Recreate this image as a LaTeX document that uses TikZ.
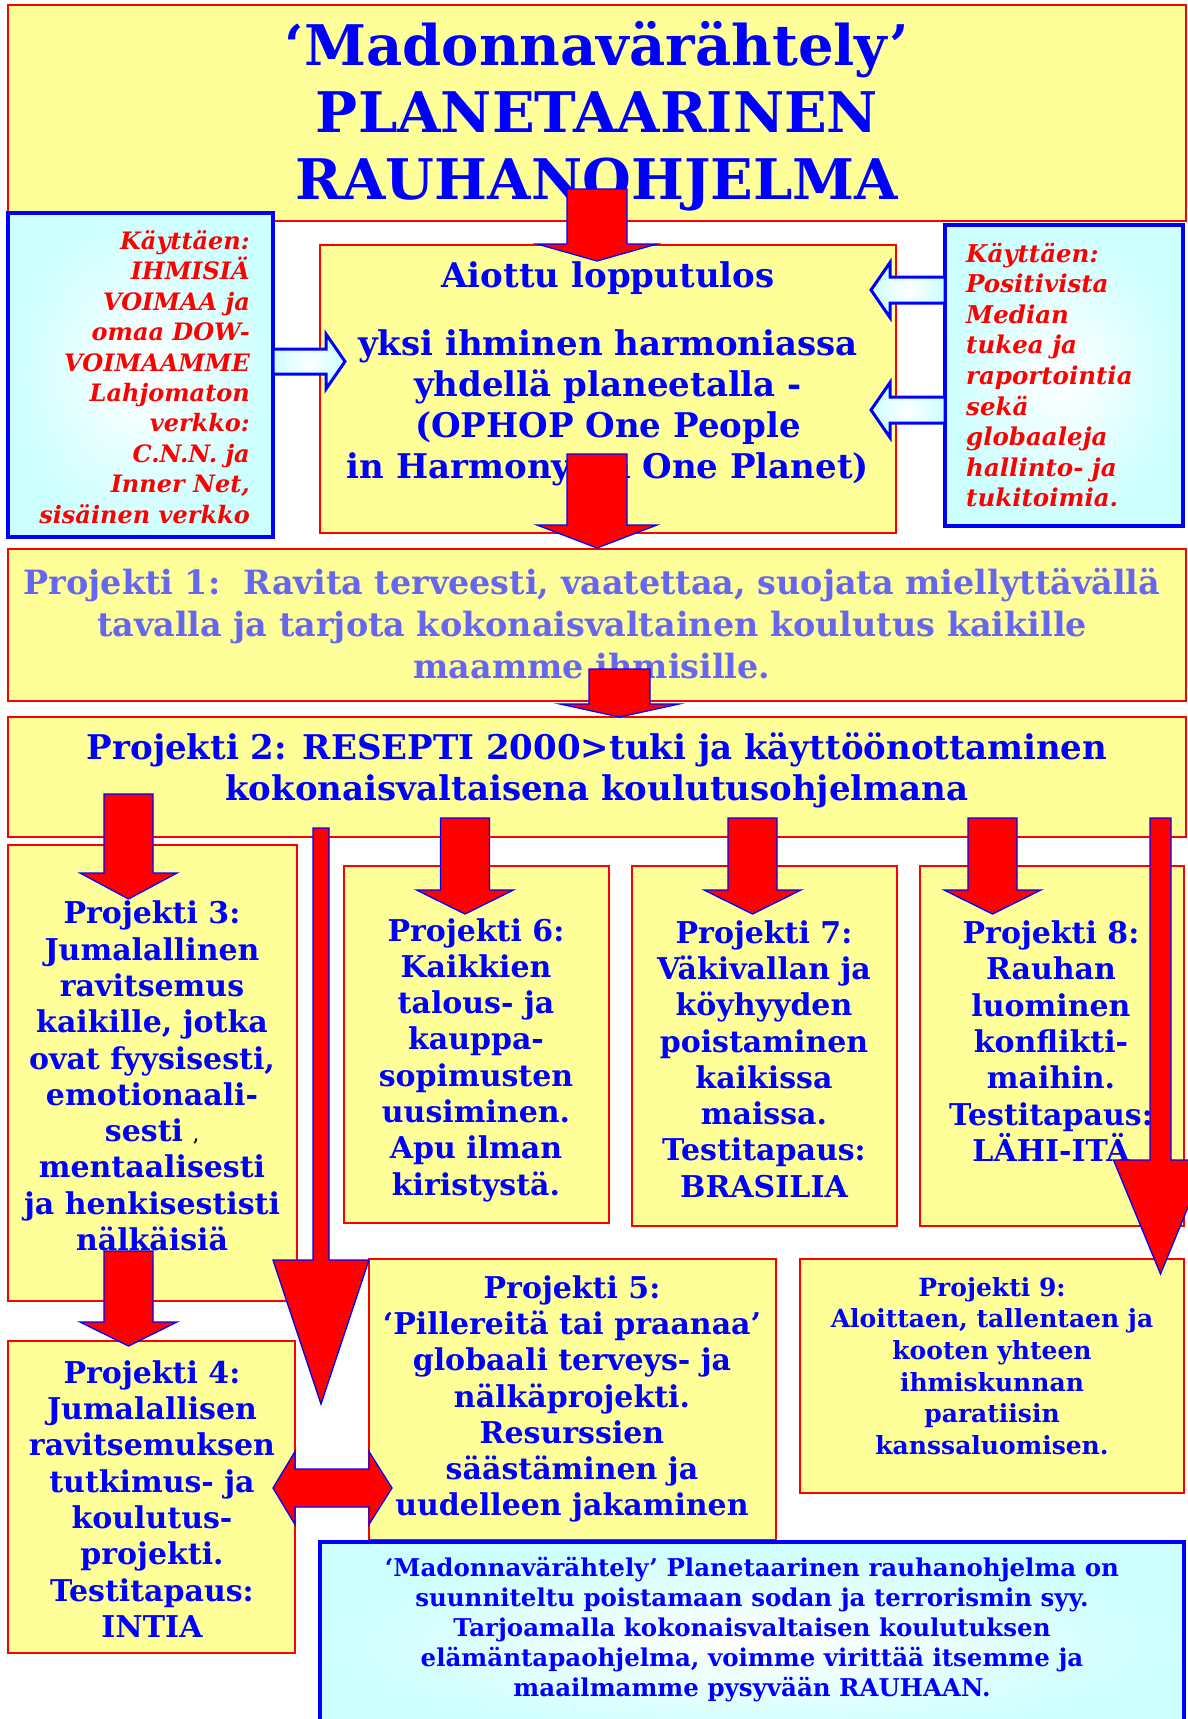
\documentclass[tikz,border=0pt]{standalone}
\usepackage{fontspec}
\setmainfont{DejaVu Serif}
\usetikzlibrary{calc}
\definecolor{yfill}{RGB}{255,255,153}
\definecolor{cfill}{RGB}{204,255,255}
\definecolor{pblue}{RGB}{0,0,255}
\definecolor{pone}{RGB}{102,102,238}
\definecolor{bred}{RGB}{255,0,0}
\tikzset{
  ybox/.style={draw=bred, line width=2pt, fill=yfill, inner sep=0pt, outer sep=0pt, anchor=north west},
  cbox/.style={draw=pblue, line width=3.5pt, inner color=white, outer color=cfill, inner sep=0pt, outer sep=0pt, anchor=north west},
  txt/.style={text=pblue, align=center, inner sep=0pt},
  redarr/.style={fill=bred, draw=pblue, line width=1.3pt, line join=miter},
  hollowarr/.style={draw=pblue, line width=3pt, line join=miter, inner color=white, outer color=cfill},
}
% #1 start, #2 tip, #3 shaft half width, #4 head half width, #5 head length
\newcommand\DownBlk[5]{%
  \draw[redarr] let \p1=(#1), \p2=(#2) in
    (\x1-#3pt,\y1) -- (\x1+#3pt,\y1) -- (\x1+#3pt,\y2+#5pt) -- (\x1+#4pt,\y2+#5pt)
    -- (\x2,\y2) -- (\x1-#4pt,\y2+#5pt) -- (\x1-#3pt,\y2+#5pt) -- cycle;}
\newcommand\RightBlk[5]{%
  \draw[hollowarr] let \p1=(#1), \p2=(#2) in
    (\x1,\y1+#3pt) -- (\x2-#5pt,\y1+#3pt) -- (\x2-#5pt,\y1+#4pt) -- (\x2,\y2)
    -- (\x2-#5pt,\y1-#4pt) -- (\x2-#5pt,\y1-#3pt) -- (\x1,\y1-#3pt) -- cycle;}
\newcommand\LeftBlk[5]{%
  \draw[hollowarr] let \p1=(#1), \p2=(#2) in
    (\x1,\y1+#3pt) -- (\x2+#5pt,\y1+#3pt) -- (\x2+#5pt,\y1+#4pt) -- (\x2,\y2)
    -- (\x2+#5pt,\y1-#4pt) -- (\x2+#5pt,\y1-#3pt) -- (\x1,\y1-#3pt) -- cycle;}
\begin{document}
\begin{tikzpicture}[x=1pt,y=-1pt]
\useasboundingbox (0,0) rectangle (1188,1719);
\fill[white] (0,0) rectangle (1188,1719);

% boxes
\node[ybox, minimum width=1178pt, minimum height=216pt] (title) at (8,5) {};
\node[cbox, minimum width=238pt, minimum height=301pt] (rightc) at (945,225) {};
\node[ybox, minimum width=576pt, minimum height=288pt] (center) at (320,245) {};
\node[ybox, minimum width=1178pt, minimum height=152pt] (p1) at (8,549) {};
\node[ybox, minimum width=1178pt, minimum height=120pt] (p2) at (8,717) {};
\node[ybox, minimum width=289pt, minimum height=456pt] (p3) at (8,845) {};
\node[ybox, minimum width=265pt, minimum height=357pt] (p6) at (344,866) {};
\node[ybox, minimum width=265pt, minimum height=360pt] (p7) at (632,866) {};
\node[ybox, minimum width=264pt, minimum height=360pt] (p8) at (920,866) {};
\node[ybox, minimum width=287pt, minimum height=312pt] (p4) at (8,1341) {};
\node[ybox, minimum width=407pt, minimum height=281pt] (p5) at (369,1259) {};
\node[ybox, minimum width=384pt, minimum height=234pt] (p9) at (800,1259) {};
\node[cbox, minimum width=864pt, minimum height=200pt] (bottom) at (320,1542) {};
\node[cbox, minimum width=265pt, minimum height=324pt] (leftc) at (8,213) {};

% texts
\node[txt, font=\bfseries\fontsize{56}{67}\selectfont] (titlet) at (597,116)
  {‘Madonnavärähtely’\\PLANETAARINEN\\RAUHANOHJELMA};
\node[txt, text=bred, align=right, anchor=east, font=\bfseries\itshape\fontsize{24}{30.4}\selectfont] (leftt) at (250,377)
  {Käyttäen:\\IHMISIÄ\\VOIMAA ja\\omaa DOW-\\VOIMAAMME\\Lahjomaton\\verkko:\\C.N.N. ja\\Inner Net,\\sisäinen verkko};
\node[txt, text=bred, align=left, anchor=west, font=\bfseries\itshape\fontsize{24.5}{30.6}\selectfont] (rightt) at (966,375)
  {Käyttäen:\\Positivista\\Median\\tukea ja\\raportointia\\sekä\\globaaleja\\hallinto- ja\\tukitoimia.};
\node[txt, font=\bfseries\fontsize{34}{41}\selectfont] (centert) at (608,374)
  {Aiottu lopputulos\\[27pt]yksi ihminen harmoniassa\\yhdellä planeetalla -\\(OPHOP One People\\in Harmony on One Planet)};
\node[txt, text=pone, font=\bfseries\fontsize{33.4}{42}\selectfont] (p1t) at (592,624)
  {Projekti 1:\ \ Ravita terveesti, vaatettaa, suojata miellyttävällä\\tavalla ja tarjota kokonaisvaltainen koulutus kaikille\\maamme ihmisille.};
\node[txt, font=\bfseries\fontsize{34}{41}\selectfont] (p2t) at (597,770)
  {Projekti 2: RESEPTI 2000>tuki ja käyttöönottaminen\\kokonaisvaltaisena koulutusohjelmana};
\node[txt, font=\bfseries\fontsize{30}{36.3}\selectfont] (p3t) at (152,1076)
  {Projekti 3:\\Jumalallinen\\ravitsemus\\kaikille, jotka\\ovat fyysisesti,\\emotionaali-\\sesti {\color{black}\fontsize{16}{16}\selectfont,}\\mentaalisesti\\ja henkisestisti\\nälkäisiä};
\node[txt, font=\bfseries\fontsize{30}{36.3}\selectfont] (p6t) at (476,1060)
  {Projekti 6:\\Kaikkien\\talous- ja\\kauppa-\\sopimusten\\uusiminen.\\Apu ilman\\kiristystä.};
\node[txt, font=\bfseries\fontsize{30}{36.3}\selectfont] (p7t) at (764,1059)
  {Projekti 7:\\Väkivallan ja\\köyhyyden\\poistaminen\\kaikissa\\maissa.\\Testitapaus:\\BRASILIA};
\node[txt, font=\bfseries\fontsize{30}{36.3}\selectfont] (p8t) at (1051,1041)
  {Projekti 8:\\Rauhan\\luominen\\konflikti-\\maihin.\\Testitapaus:\\LÄHI-ITÄ};
\node[txt, font=\bfseries\fontsize{30}{36.3}\selectfont] (p4t) at (152,1499)
  {Projekti 4:\\Jumalallisen\\ravitsemuksen\\tutkimus- ja\\koulutus-\\projekti.\\Testitapaus:\\INTIA};
\node[txt, font=\bfseries\fontsize{30}{36.3}\selectfont] (p5t) at (572,1399)
  {Projekti 5:\\‘Pillereitä tai praanaa’\\globaali terveys- ja\\nälkäprojekti.\\Resurssien\\säästäminen ja\\uudelleen jakaminen};
\node[txt, font=\bfseries\fontsize{25}{31.6}\selectfont] (p9t) at (992,1366)
  {Projekti 9:\\Aloittaen, tallentaen ja\\kooten yhteen\\ihmiskunnan\\paratiisin\\kanssaluomisen.};
\node[txt, font=\bfseries\fontsize{24.5}{30}\selectfont] (bottomt) at (752,1630)
  {‘Madonnavärähtely’ Planetaarinen rauhanohjelma on\\suunniteltu poistamaan sodan ja terrorismin syy.\\Tarjoamalla kokonaisvaltaisen koulutuksen\\elämäntapaohjelma, voimme virittää itsemme ja\\maailmamme pysyvään RAUHAAN.};

% arrow end points
\coordinate (a1s) at (597,189);    \coordinate (a1e) at (597,261);
\coordinate (a2s) at (597,454);    \coordinate (a2e) at (597,548);
\coordinate (a3s) at (619.5,669);  \coordinate (a3e) at (619.5,717);
\coordinate (a4s) at (128.5,794);  \coordinate (a4e) at (128.5,899);
\coordinate (a5s) at (321,828);    \coordinate (a5e) at (321,1404);
\coordinate (a6s) at (465,818);    \coordinate (a6e) at (465,914);
\coordinate (a7s) at (752.5,818);  \coordinate (a7e) at (752.5,914);
\coordinate (a8s) at (992.5,818);  \coordinate (a8e) at (992.5,914);
\coordinate (a9s) at (1160.5,818); \coordinate (a9e) at (1160.5,1274);
\coordinate (a10s) at (128.5,1251); \coordinate (a10e) at (128.5,1346);
\coordinate (h1s) at (273,361.5);  \coordinate (h1e) at (345,361.5);
\coordinate (h2s) at (945,290);    \coordinate (h2e) at (871,290);
\coordinate (h3s) at (945,410);    \coordinate (h3e) at (871,410);
\coordinate (dl) at (273,1488);    \coordinate (dr) at (392,1488);

% hollow arrows
\RightBlk{h1s}{h1e}{12.5}{27.5}{19}
\LeftBlk{h2s}{h2e}{13}{27.5}{19}
\LeftBlk{h3s}{h3e}{13}{27.5}{19}

% red arrows
\DownBlk{a1s}{a1e}{30}{60}{17}
\DownBlk{a2s}{a2e}{30}{60}{23}
\DownBlk{a3s}{a3e}{30.5}{59.5}{13}
\DownBlk{a4s}{a4e}{24.5}{48.5}{26}
\DownBlk{a5s}{a5e}{8}{48}{144}
\DownBlk{a6s}{a6e}{24.5}{48.5}{24}
\DownBlk{a7s}{a7e}{24.5}{48.5}{24}
\DownBlk{a8s}{a8e}{24.5}{48.5}{24}
\DownBlk{a9s}{a9e}{10.5}{47}{114}
\DownBlk{a10s}{a10e}{24.5}{48.5}{24}
\draw[redarr] let \p1=(dl), \p2=(dr) in
  (\x1,\y1) -- (\x1+22pt,\y1+36.5pt) -- (\x1+22pt,\y1+19pt) -- (\x2-23pt,\y1+19pt)
  -- (\x2-23pt,\y1+36.5pt) -- (\x2,\y2) -- (\x2-23pt,\y1-36.5pt) -- (\x2-23pt,\y1-19pt)
  -- (\x1+22pt,\y1-19pt) -- (\x1+22pt,\y1-36.5pt) -- cycle;
\end{tikzpicture}
\end{document}
